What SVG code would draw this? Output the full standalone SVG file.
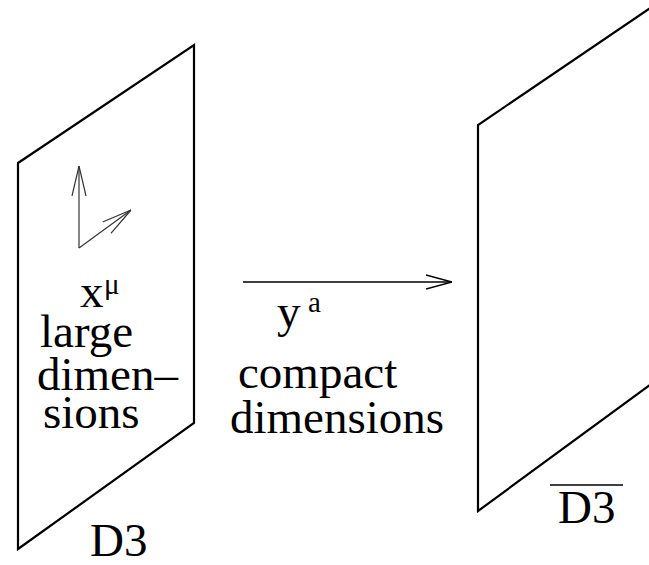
<svg xmlns="http://www.w3.org/2000/svg" width="649" height="565" viewBox="0 0 649 565" font-family="Liberation Serif">
<defs>
<marker id="head" viewBox="0 0 26 16" refX="26" refY="8" markerWidth="26" markerHeight="16" markerUnits="userSpaceOnUse" orient="auto">
<path d="M0,1 L26,8 L0,15" fill="none" stroke="#000" stroke-width="1.4"/>
</marker>
<marker id="headS" viewBox="0 0 30 16" refX="30" refY="8" markerWidth="30" markerHeight="16" markerUnits="userSpaceOnUse" orient="auto">
<path d="M0,1 L30,8 L0,15" fill="none" stroke="#333" stroke-width="1.2"/>
</marker>
</defs>
<g id="D3">
<polygon fill="none" stroke="#000" stroke-width="2.2" points="18,163 194,45 194,423 18,549"/>
<text x="80" y="307" font-size="47" font-family="Liberation Serif">x</text>
<text x="104" y="294" font-size="29" font-family="Liberation Serif">&#956;</text>
<text x="40" y="347" font-size="47" font-family="Liberation Serif">large</text>
<text x="37" y="390" font-size="47" font-family="Liberation Serif">dimen&#8211;</text>
<text x="43" y="428" font-size="47" font-family="Liberation Serif">sions</text>
<text x="90" y="556" font-size="47" font-family="Liberation Serif">D3</text>
</g>
<g id="D3bar">
<polyline fill="none" stroke="#000" stroke-width="2.2" points="662,0 478,125 478,511 662,376"/>
<line x1="550" y1="485" x2="623" y2="485" stroke="#000" stroke-width="1.6"/>
<text x="558" y="523" font-size="47" font-family="Liberation Serif">D3</text>
</g>
<g id="labels">
<text x="277" y="327" font-size="47" font-family="Liberation Serif">y</text>
<text x="308" y="312" font-size="29" font-family="Liberation Serif">a</text>
<text x="238" y="388" font-size="47" font-family="Liberation Serif">compact</text>
<text x="230" y="433" font-size="47" font-family="Liberation Serif">dimensions</text>
</g>
<g id="connectors" fill="none">
<line stroke="#000" stroke-width="1.4" x1="243" y1="282" x2="452" y2="282" marker-end="url(#head)"/>
<line stroke="#333" stroke-width="1.2" x1="79" y1="248" x2="79" y2="166" marker-end="url(#headS)"/>
<line stroke="#333" stroke-width="1.2" x1="79" y1="248" x2="131" y2="210" marker-end="url(#headS)"/>
</g>
</svg>
